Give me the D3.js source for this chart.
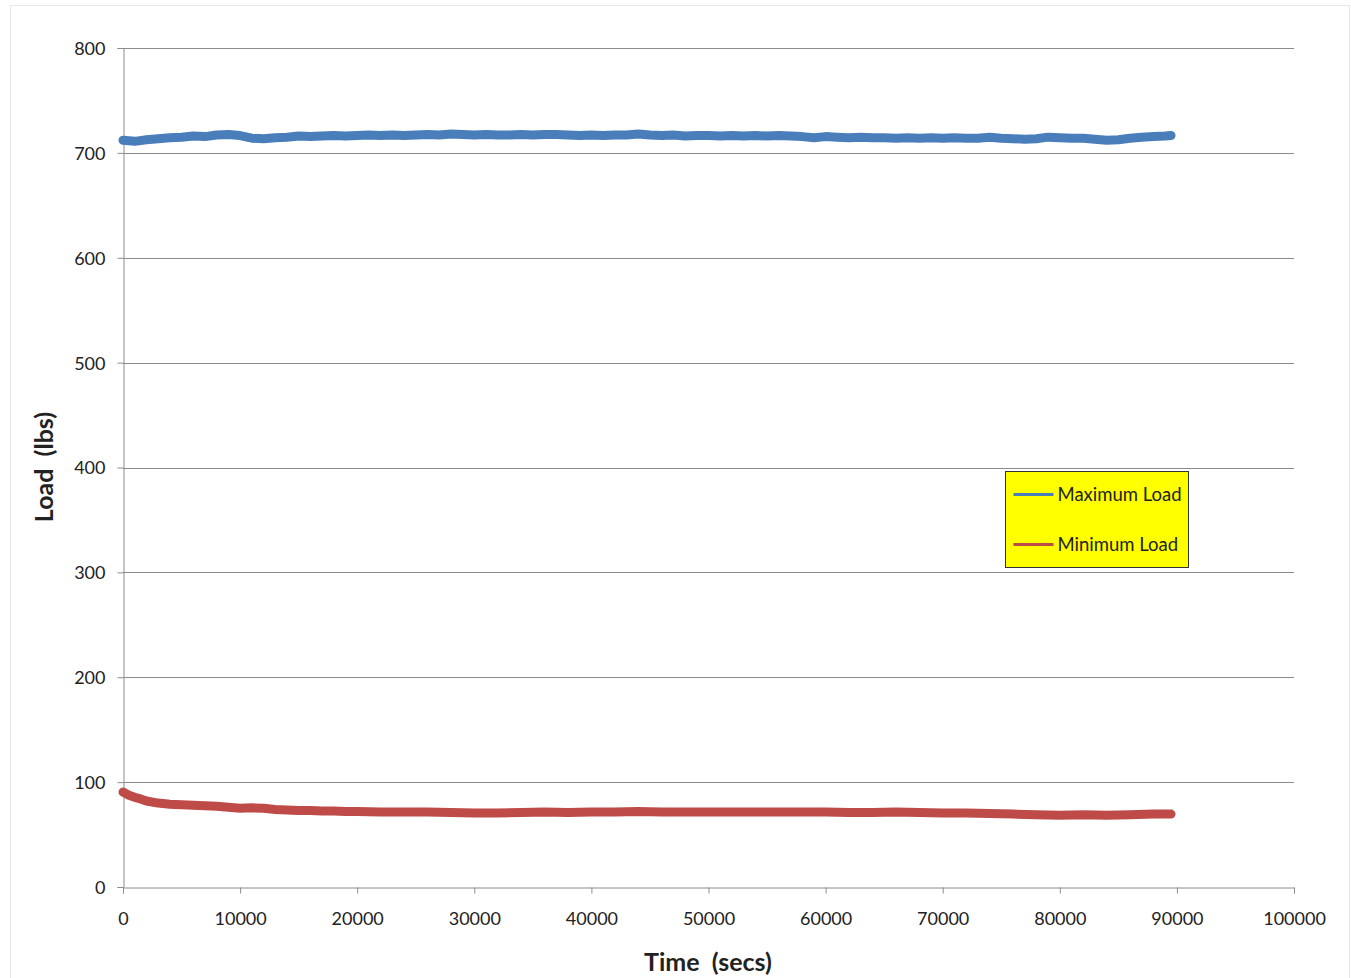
<!DOCTYPE html>
<html>
<head>
<meta charset="utf-8">
<script src="https://cdn.jsdelivr.net/npm/d3@7"></script>
<style>
  body { margin: 0; background: #fff; }
  svg text { font-family: Lato, "Open Sans", sans-serif; fill: #222; }
</style>
</head>
<body>
<svg id="chart" width="1351" height="978"></svg>
<script>
// Readings (secs, lbs)
const maxTime = [0,1000,2000,3000,4000,5000,6000,7000,8000,9000,10000,11000,12000,13000,14000,15000,16000,17000,18000,19000,20000,21000,22000,23000,24000,25000,26000,27000,28000,29000,30000,31000,32000,33000,34000,35000,36000,37000,38000,39000,40000,41000,42000,43000,44000,45000,46000,47000,48000,49000,50000,51000,52000,53000,54000,55000,56000,57000,58000,59000,60000,61000,62000,63000,64000,65000,66000,67000,68000,69000,70000,71000,72000,73000,74000,75000,76000,77000,78000,79000,80000,81000,82000,83000,84000,85000,86000,87000,88000,89000,89500];
const maxLoad = [712,711,712.5,713.5,714.5,715,716,715.5,717,717.5,716.5,714,713.5,714.5,715,716,715.5,716,716.5,716,716.5,717,716.5,717,716.5,717,717.5,717,718,717.5,717,717.5,717,717,717.5,717,717.5,717.5,717,716.5,717,716.5,717,717,718,717,716.5,717,716,716.5,716.5,716,716.5,716,716.5,716,716.5,716,715.5,714.5,715.5,715,714.5,715,714.5,714.5,714,714.5,714,714.5,714,714.5,714,714,715,714,713.5,713,713.5,715,714.5,714,714,713,712,712.5,714,715,715.5,716,716.5];

const minTime = [0,500,1000,1500,2000,3000,4000,5000,6000,7000,8000,9000,10000,11000,12000,13000,14000,15000,16000,17000,18000,19000,20000,22000,24000,26000,28000,30000,32000,34000,36000,38000,40000,42000,44000,46000,48000,50000,52000,54000,56000,58000,60000,62000,64000,66000,68000,70000,72000,74000,76000,78000,80000,82000,84000,86000,88000,89500];
const minLoad = [90.5,87.5,85.5,84,82,80,79,78.5,78,77.5,77,76,75,75.5,75,74,73.5,73,73,72.5,72.5,72,72,71.5,71.5,71.5,71,70.5,70.5,71,71.5,71,71.5,71.5,72,71.5,71.5,71.5,71.5,71.5,71.5,71.5,71.5,71,71,71.5,71,70.5,70.5,70,69.5,69,68.5,69,68.5,69,69.5,69.5];

const xTicks = [0,10000,20000,30000,40000,50000,60000,70000,80000,90000,100000];
const yTicks = [0,100,200,300,400,500,600,700,800];

const seriesNames = ["Maximum Load", "Minimum Load"];
const seriesColors = ["#4a7ebb", "#be4b48"];

const svg = d3.select("#chart");
const margin = {left: 123, right: 57, top: 48, bottom: 91};
const W = 1351, H = 978;

// faint outer chart border
svg.append("rect")
  .attr("x", 10.5).attr("y", 5.5)
  .attr("width", 1339).attr("height", 990)
  .attr("fill", "none").attr("stroke", "#e8e8e8");

const x = d3.scaleLinear().domain([0, 100000]).range([margin.left, W - margin.right]);
const y = d3.scaleLinear().domain([0, 800]).range([H - margin.bottom, margin.top]);

// horizontal gridlines
svg.append("g")
  .selectAll("line")
  .data(yTicks.filter(d => d > 0))
  .join("line")
  .attr("x1", x(0)).attr("x2", x(100000))
  .attr("y1", d => Math.round(y(d)) + 0.5).attr("y2", d => Math.round(y(d)) + 0.5)
  .attr("stroke", "#8c8c8c").attr("stroke-width", 1);

// axes
const xAxis = svg.append("g")
  .attr("transform", `translate(0,${Math.round(y(0)) + 0.5})`)
  .call(d3.axisBottom(x).tickValues(xTicks).tickFormat(d3.format("d")).tickSize(6).tickPadding(19));
const yAxis = svg.append("g")
  .attr("transform", `translate(${x(0) + 0.5},0)`)
  .call(d3.axisLeft(y).tickValues(yTicks).tickSize(6).tickPadding(12));

[xAxis, yAxis].forEach(g => {
  g.select(".domain").attr("stroke", "#8c8c8c");
  g.selectAll(".tick line").attr("stroke", "#8c8c8c");
  g.selectAll(".tick text").attr("font-size", 18).attr("font-family", "Lato, sans-serif").attr("fill", "#222");
});
yAxis.selectAll(".tick text").attr("dy", "0.36em");

// data lines
const line = d3.line().x(d => x(d[0])).y(d => y(d[1]));
const series = [
  d3.zip(maxTime, maxLoad),
  d3.zip(minTime, minLoad)
];
svg.append("g")
  .selectAll("path")
  .data(series)
  .join("path")
  .attr("d", line)
  .attr("fill", "none")
  .attr("stroke", (d, i) => seriesColors[i])
  .attr("stroke-width", 9)
  .attr("stroke-linejoin", "round")
  .attr("stroke-linecap", "round");

// axis titles
svg.append("text")
  .attr("x", 708).attr("y", 971)
  .attr("text-anchor", "middle")
  .attr("font-size", 25).attr("font-weight", "bold")
  .style("white-space", "pre")
  .text("Time  (secs)");
svg.append("text")
  .attr("transform", "translate(53,467) rotate(-90)")
  .attr("text-anchor", "middle")
  .attr("font-size", 25).attr("font-weight", "bold")
  .style("white-space", "pre")
  .text("Load  (lbs)");

// legend
const legend = svg.append("g").attr("transform", "translate(1005.5,471.5)");
legend.append("rect")
  .attr("width", 183).attr("height", 96)
  .attr("fill", "#ffff00").attr("stroke", "#333").attr("stroke-width", 1);
const item = legend.selectAll("g.item")
  .data(seriesNames)
  .join("g")
  .attr("class", "item")
  .attr("transform", (d, i) => `translate(0,${23 + i * 50})`);
item.append("line")
  .attr("x1", 8).attr("x2", 48)
  .attr("stroke", (d, i) => seriesColors[i]).attr("stroke-width", 3);
item.append("text")
  .attr("x", 52).attr("dy", "0.35em")
  .attr("font-size", 18.5)
  .text(d => d);
</script>
</body>
</html>
